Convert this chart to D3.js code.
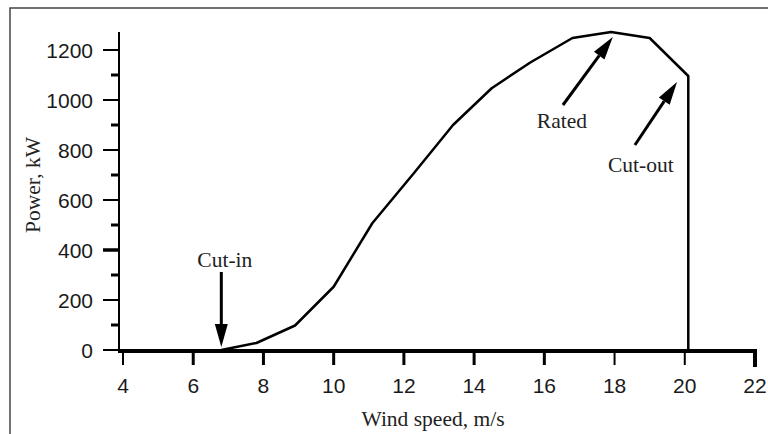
<!DOCTYPE html>
<html>
<head>
<meta charset="utf-8">
<script src="https://cdn.jsdelivr.net/npm/d3@7"></script>
<style>
  body { margin: 0; background: #fff; }
  svg { display: block; }
</style>
</head>
<body>
<svg id="mainsvg" width="768" height="434"></svg>
<script>
// wind turbine power curve
var windSpeed = [6.8, 7.8, 8.9, 10.0, 11.1, 12.3, 13.4, 14.5, 15.6, 16.8, 17.9, 19.0, 20.1, 20.1];
var power = [0, 28, 98, 253, 507, 710, 900, 1047, 1150, 1248, 1272, 1248, 1096, 0];
var xTicks = [4, 6, 8, 10, 12, 14, 16, 18, 20, 22];
var yTicks = [0, 200, 400, 600, 800, 1000, 1200];
var yMinor = [100, 300, 500, 700, 900, 1100];
// annotations: label, label anchor (data), arrow tail (data), arrow tip (data)
var notes = [
  { text: "Cut-in", lx: 6.9, ly: 333, tx: 6.8, ty: 312, hx: 6.8, hy: 12 },
  { text: "Rated", lx: 16.5, ly: 888, tx: 16.53, ty: 980, hx: 17.95, hy: 1252 },
  { text: "Cut-out", lx: 18.75, ly: 712, tx: 18.58, ty: 820, hx: 19.78, hy: 1072 }
];

var svg = d3.select("#mainsvg");

var x = d3.scaleLinear().domain([4, 22]).range([123, 755]);
var y = d3.scaleLinear().domain([0, 1200]).range([350, 50]);

var serif = "Liberation Serif, Times New Roman, serif";
var sans = "Liberation Sans, Arial, sans-serif";

// outer frame
svg.append("rect")
  .attr("x", 10).attr("y", 8)
  .attr("width", 800).attr("height", 440)
  .attr("fill", "none")
  .attr("stroke", "#444")
  .attr("stroke-width", 1.5);

// y axis
var yAxis = svg.append("g");
yAxis.append("line")
  .attr("x1", 119).attr("x2", 119)
  .attr("y1", 32).attr("y2", 352)
  .attr("stroke", "#000").attr("stroke-width", 2);
yAxis.selectAll(".major")
  .data(yTicks)
  .enter()
  .append("line")
  .attr("class", "major")
  .attr("x1", 103).attr("x2", 119)
  .attr("y1", function (d) { return y(d); })
  .attr("y2", function (d) { return y(d); })
  .attr("stroke", "#000")
  .attr("stroke-width", function (d) { return d == 400 ? 3.5 : 2; });
yAxis.selectAll(".minor")
  .data(yMinor)
  .enter()
  .append("line")
  .attr("class", "minor")
  .attr("x1", 111).attr("x2", 119)
  .attr("y1", function (d) { return y(d); })
  .attr("y2", function (d) { return y(d); })
  .attr("stroke", "#000").attr("stroke-width", 3);
yAxis.selectAll("text")
  .data(yTicks)
  .enter()
  .append("text")
  .attr("x", 93)
  .attr("y", function (d) { return y(d); })
  .attr("dy", "0.36em")
  .attr("text-anchor", "end")
  .attr("font-family", sans)
  .attr("font-size", 21)
  .attr("fill", "#1a1a1a")
  .text(function (d) { return d; });

// x axis
var xAxis = svg.append("g");
xAxis.append("line")
  .attr("x1", 118).attr("x2", 757)
  .attr("y1", 351).attr("y2", 351)
  .attr("stroke", "#000").attr("stroke-width", 4);
xAxis.selectAll(".tick")
  .data(xTicks)
  .enter()
  .append("line")
  .attr("class", "tick")
  .attr("x1", function (d) { return x(d); })
  .attr("x2", function (d) { return x(d); })
  .attr("y1", 351)
  .attr("y2", function (d) { return d == 22 ? 367 : 365; })
  .attr("stroke", "#000")
  .attr("stroke-width", function (d) {
    if (d == 22) return 4;
    if (d == 4 || d == 18 || d == 20) return 2;
    return 3;
  });
xAxis.selectAll("text")
  .data(xTicks)
  .enter()
  .append("text")
  .attr("x", function (d) { return x(d); })
  .attr("y", 393)
  .attr("text-anchor", "middle")
  .attr("font-family", sans)
  .attr("font-size", 21)
  .attr("fill", "#1a1a1a")
  .text(function (d) { return d; });

// axis titles
svg.append("text")
  .attr("transform", "translate(40,185) rotate(-90)")
  .attr("text-anchor", "middle")
  .attr("font-family", serif)
  .attr("font-size", 21.5)
  .attr("fill", "#222")
  .text("Power, kW");
svg.append("text")
  .attr("x", 433).attr("y", 426)
  .attr("text-anchor", "middle")
  .attr("font-family", serif)
  .attr("font-size", 21.5)
  .attr("fill", "#222")
  .text("Wind speed, m/s");

// power curve
var pts = windSpeed.map(function (d, i) { return [d, power[i]]; });
var line = d3.line()
  .x(function (d) { return x(d[0]); })
  .y(function (d) { return y(d[1]); });
svg.append("path")
  .attr("d", line(pts))
  .attr("fill", "none")
  .attr("stroke", "#000")
  .attr("stroke-width", 2.5)
  .attr("stroke-linejoin", "round");

// annotations with arrows
var ann = svg.append("g");
notes.forEach(function (d) {
  var x0 = x(d.tx), y0 = y(d.ty), x1 = x(d.hx), y1 = y(d.hy);
  var dx = x1 - x0, dy = y1 - y0;
  var len = Math.sqrt(dx * dx + dy * dy);
  var ux = dx / len, uy = dy / len;
  var headLen = 23, headW = 6.5;
  var bx = x1 - ux * headLen, by = y1 - uy * headLen;
  ann.append("line")
    .attr("x1", x0).attr("y1", y0)
    .attr("x2", bx).attr("y2", by)
    .attr("stroke", "#000").attr("stroke-width", 3);
  ann.append("path")
    .attr("d", "M" + x1 + "," + y1 +
      "L" + (bx - uy * headW) + "," + (by + ux * headW) +
      "L" + (bx + uy * headW) + "," + (by - ux * headW) + "Z")
    .attr("fill", "#000");
  ann.append("text")
    .attr("x", x(d.lx)).attr("y", y(d.ly))
    .attr("text-anchor", "middle")
    .attr("font-family", serif)
    .attr("font-size", 21.5)
    .attr("fill", "#222")
    .text(d.text);
});
</script>
</body>
</html>
